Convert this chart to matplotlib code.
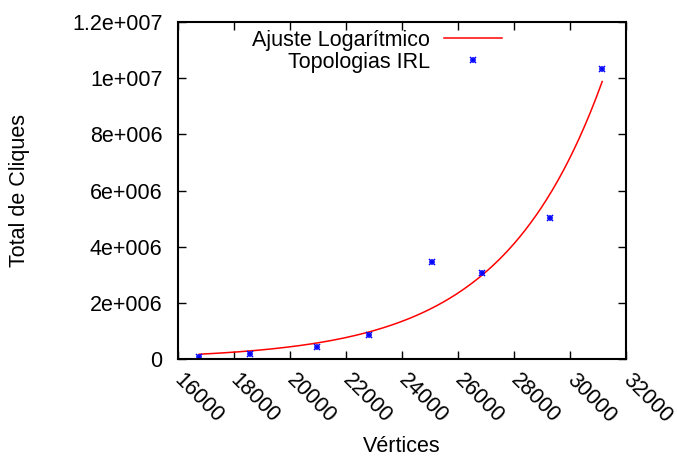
import numpy as np
import matplotlib
matplotlib.use("Agg")
import matplotlib.pyplot as plt
import matplotlib.transforms as mtransforms
from matplotlib.legend_handler import HandlerTuple

plt.rcParams['font.family'] = ['Liberation Sans', 'DejaVu Sans']
plt.rcParams['font.size'] = 15.5

# Topologias IRL: número de vértices e total de cliques
vertices = [16770, 18580, 20960, 22830, 25090, 26860, 29290, 31150]
cliques = [0.07e6, 0.18e6, 0.44e6, 0.85e6, 3.46e6, 3.07e6, 5.01e6, 10.32e6]

# coeficientes do ajuste y = A * exp(B * x)
fit_A = 1686.0
fit_B = 2.785e-4

xticks = [16000, 18000, 20000, 22000, 24000, 26000, 28000, 30000, 32000]
yticks = [0, 2e6, 4e6, 6e6, 8e6, 10e6, 12e6]
ytick_labels = ["0", "2e+006", "4e+006", "6e+006", "8e+006", "1e+007", "1.2e+007"]

fig = plt.figure(figsize=(6.77, 4.57), dpi=100)
ax = fig.add_axes([0.2625, 0.2138, 0.6622, 0.7387])

xs = np.linspace(min(vertices), max(vertices), 300)
line, = ax.plot(xs, fit_A * np.exp(fit_B * xs), color='#ff0000', lw=1.1)
p1, = ax.plot(vertices, cliques, ls='none', marker='+', ms=5, mew=1.1, color='#0000ff')
p2, = ax.plot(vertices, cliques, ls='none', marker='x', ms=4, mew=1.1, color='#0000ff')

ax.set_xlim(16000, 32000)
ax.set_ylim(0, 12e6)
ax.set_xticks(xticks)
ax.set_xticklabels([str(t) for t in xticks], rotation=-45, ha='left', va='center',
                   rotation_mode='anchor')
# rótulos girados começam um pouco à direita do tick
shift = mtransforms.ScaledTranslation(5 / 100, 0, fig.dpi_scale_trans)
for lbl in ax.get_xticklabels():
    lbl.set_transform(lbl.get_transform() + shift)
ax.set_yticks(yticks)
ax.set_yticklabels(ytick_labels)
ax.tick_params(direction='in', length=6, width=1, top=True, right=True)
ax.tick_params(axis='y', pad=11)
ax.tick_params(axis='x', pad=13)
for s in ax.spines.values():
    s.set_linewidth(1.5)

ax.set_xlabel("Vértices")
ax.xaxis.set_label_coords(0.4997, -0.228)
ax.set_ylabel("Total de Cliques")
ax.yaxis.set_label_coords(-0.329, 0.5)

ax.legend([line, (p1, p2)], ["Ajuste Logarítmico", "Topologias IRL"],
          handler_map={tuple: HandlerTuple(ndivide=1, pad=0)},
          loc='upper right', bbox_to_anchor=(502 / 677, 1 - 30 / 457),
          bbox_transform=fig.transFigure, frameon=False, markerfirst=False,
          handlelength=2.7, handletextpad=0.65, labelspacing=0.03,
          borderpad=0, borderaxespad=0)

fig.savefig("out.png", dpi=100)
